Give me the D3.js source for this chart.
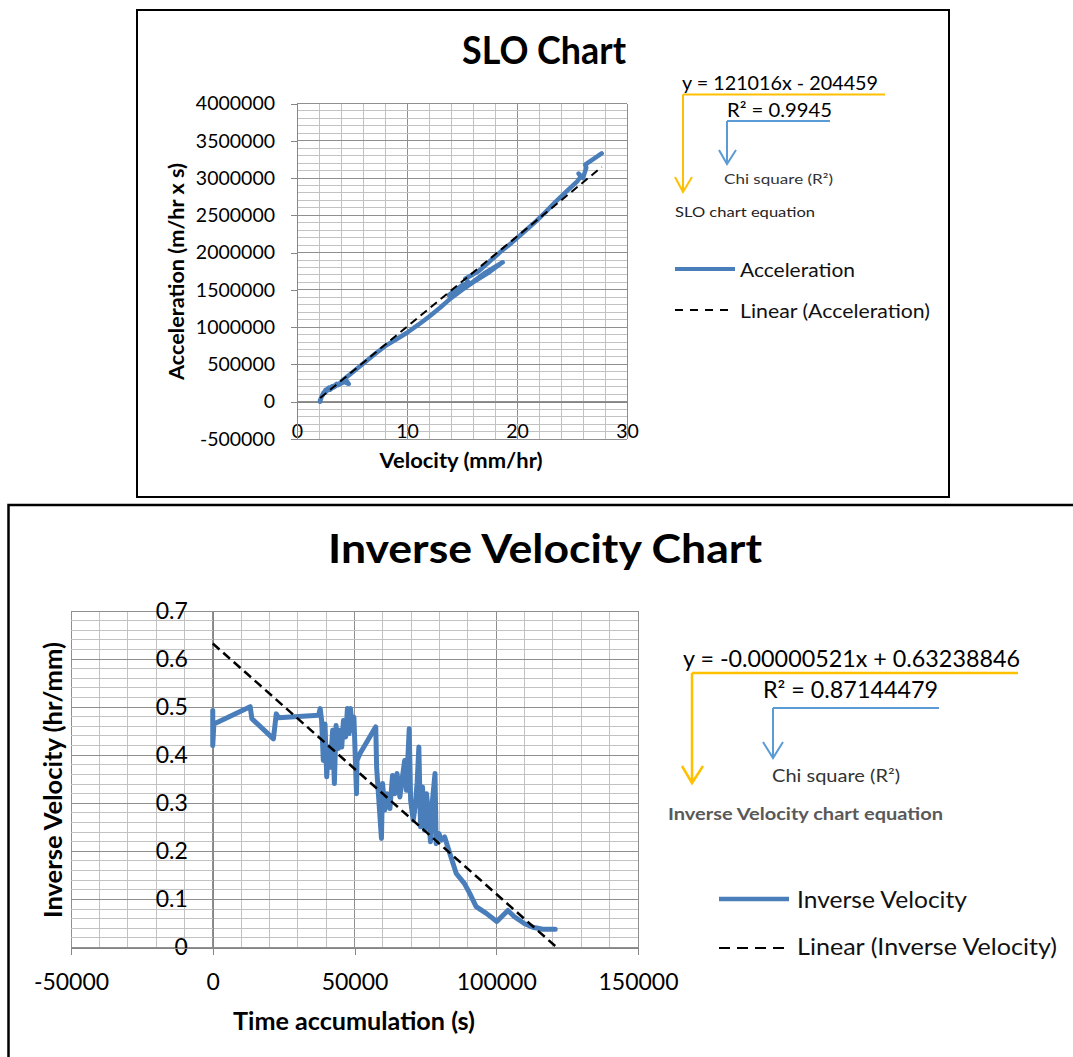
<!DOCTYPE html>
<html lang="en">
<head>
<meta charset="utf-8" />
<title>SLO Chart / Inverse Velocity Chart</title>
<script src="https://cdn.jsdelivr.net/npm/d3@7"></script>
<style>
  body { margin: 0; background: #fff; }
  svg { display: block; font-family: Lato, "Open Sans", sans-serif; }
</style>
</head>
<body>
<svg id="chart" width="1073" height="1057"></svg>
<script>
// ---- SLO chart data: velocity (mm/hr) vs acceleration (m/hr x s)
const sloVelocity = [2.1, 2.2, 2.1, 2.4, 2.3, 2.6, 2.4, 2.9, 2.6, 3.2, 3.0, 3.6, 3.3, 4.0, 3.7, 4.5, 4.7, 4.1,
  5.0, 6.0, 7.0, 8.0, 9.0, 10.0, 11.0, 12.0, 13.0, 14.0, 15.0, 16.0, 17.0, 18.7,
  17.5, 16.0, 14.5, 13.8, 15.0, 15.6, 15.3, 16.5, 17.5, 18.5, 19.5, 20.5, 21.5, 22.5,
  23.5, 24.5, 25.5, 25.8, 25.6, 26.0, 26.3, 26.2, 26.8, 27.7];
const sloAcceleration = [0, 50000, 20000, 120000, 80000, 160000, 110000, 190000, 130000, 210000,
  160000, 240000, 190000, 260000, 220000, 280000, 240000, 280000,
  390000, 510000, 630000, 745000, 835000, 925000, 1030000, 1140000, 1260000, 1390000,
  1500000, 1610000, 1720000, 1870000,
  1740000, 1600000, 1450000, 1430000, 1560000, 1600000, 1650000, 1750000, 1880000, 2010000,
  2130000, 2260000, 2390000, 2530000, 2680000, 2820000, 2960000, 3020000, 3060000, 3000000,
  3140000, 3180000, 3240000, 3330000];
const sloXTicks = [0, 10, 20, 30];
const sloYTicks = [-500000, 0, 500000, 1000000, 1500000, 2000000, 2500000, 3000000, 3500000, 4000000];
const sloSlope = 121016;
const sloIntercept = -204459;

// ---- Inverse velocity chart data: time accumulation (s) vs inverse velocity (hr/mm)
const ivTime = [0, 0, 400, 13200, 13800, 21400, 22400, 23200, 37300, 37900,
  38400, 39000, 39600, 40200, 40800, 41400, 42300, 42900, 43500, 44300, 44900, 45500,
  46100, 46900, 47500, 48100, 48600, 49200, 49800, 50700, 50900, 51900,
  57500, 57800, 59500, 59900, 60700, 61500, 62500, 63400, 64200, 65000, 66000, 66900,
  67700, 68300, 69300, 69800, 70700, 71400, 72100, 72700, 73300, 74000, 74700, 75400,
  76100, 76800, 77500, 78400, 78800, 79800, 80600, 81800, 83600, 85900, 88800, 90600,
  92900, 96500, 100200, 104100, 106400, 109900, 112900, 116400, 120800];
const ivInverse = [0.493, 0.420, 0.465, 0.501, 0.476, 0.434, 0.486, 0.478, 0.483, 0.497,
  0.472, 0.389, 0.465, 0.355, 0.417, 0.375, 0.452, 0.341, 0.462, 0.414, 0.452, 0.417,
  0.472, 0.438, 0.497, 0.445, 0.497, 0.452, 0.479, 0.320, 0.389, 0.403,
  0.459, 0.375, 0.227, 0.341, 0.286, 0.320, 0.289, 0.358, 0.320, 0.362, 0.313, 0.355,
  0.389, 0.327, 0.455, 0.306, 0.265, 0.293, 0.344, 0.417, 0.251, 0.334, 0.244, 0.320,
  0.279, 0.220, 0.306, 0.362, 0.216, 0.237, 0.223, 0.230, 0.196, 0.154, 0.133, 0.113,
  0.085, 0.071, 0.054, 0.077, 0.064, 0.050, 0.042, 0.038, 0.038];
const ivXTicks = [-50000, 0, 50000, 100000, 150000];
const ivYTicks = [0, 0.1, 0.2, 0.3, 0.4, 0.5, 0.6, 0.7];
const ivSlope = -0.00000521;
const ivIntercept = 0.63238846;

const blue = "#4a7ebb";
const gold = "#ffc000";
const noteBlue = "#5b9bd5";
const minorGrid = "#c2c2c2";
const majorGrid = "#8f8f8f";
const axisColor = "#868686";

const svg = d3.select("#chart");

// frames round each chart
svg.append("rect").attr("x", 137).attr("y", 10).attr("width", 812).attr("height", 487)
  .attr("fill", "none").attr("stroke", "#000").attr("stroke-width", 2);
svg.append("rect").attr("x", 8.5).attr("y", 505).attr("width", 1100).attr("height", 600)
  .attr("fill", "none").attr("stroke", "#000").attr("stroke-width", 2.5);

// draw minor + major gridlines for one plot
function drawGrid(g, x, y, xStep, xMajor, yStep, yMajor) {
  const [x0, x1] = x.domain();
  const [y0, y1] = y.domain();
  const xs = d3.range(x0, x1 + xStep / 2, xStep);
  const ys = d3.range(y0, y1 + yStep / 2, yStep);
  const isMajor = (v, m) => Math.abs(v / m - Math.round(v / m)) < 1e-6;
  g.selectAll(".vg").data(xs).enter().append("line")
    .attr("x1", d => x(d)).attr("x2", d => x(d))
    .attr("y1", y(y0)).attr("y2", y(y1))
    .attr("stroke", d => isMajor(d, xMajor) ? majorGrid : minorGrid)
    .attr("shape-rendering", "crispEdges");
  g.selectAll(".hg").data(ys).enter().append("line")
    .attr("y1", d => y(d)).attr("y2", d => y(d))
    .attr("x1", x(x0)).attr("x2", x(x1))
    .attr("stroke", d => isMajor(d, yMajor) ? majorGrid : minorGrid)
    .attr("shape-rendering", "crispEdges");
}

function styleAxis(g, size) {
  g.attr("font-family", null).attr("font-size", null);
  g.select(".domain").attr("stroke", axisColor).attr("shape-rendering", "crispEdges");
  g.selectAll(".tick line").attr("stroke", axisColor).attr("shape-rendering", "crispEdges");
  g.selectAll(".tick text").attr("fill", "#000").style("font-size", size + "px");
}

function addText(x, y, str, opts) {
  const t = svg.append("text").attr("x", x).attr("y", y).text(str)
    .style("font-size", opts.size + "px")
    .attr("fill", opts.fill || "#000")
    .attr("font-weight", opts.bold ? "bold" : "normal")
    .attr("text-anchor", opts.anchor || "start");
  if (opts.len) t.attr("textLength", opts.len).attr("lengthAdjust", "spacingAndGlyphs");
  if (opts.rotate) t.attr("transform", `rotate(-90,${x},${y})`);
  return t;
}

// =================== SLO chart ===================
const sloX = d3.scaleLinear().domain([0, 30]).range([297, 627]);
const sloY = d3.scaleLinear().domain([-500000, 4000000]).range([439, 103.5]);

const g1 = svg.append("g");
drawGrid(g1, sloX, sloY, 2, 10, 100000, 500000);

g1.append("g").attr("transform", `translate(0,${sloY(0)})`)
  .call(d3.axisBottom(sloX).tickValues(sloXTicks).tickSizeInner(5).tickSizeOuter(0).tickPadding(17))
  .call(g => styleAxis(g, 19.5));
g1.append("g").attr("transform", `translate(${sloX(0)},0)`)
  .call(d3.axisLeft(sloY).tickValues(sloYTicks).tickSize(6).tickSizeOuter(0).tickPadding(16)
    .tickFormat(d => String(d)))
  .call(g => styleAxis(g, 19.5));

const sloPoints = sloVelocity.map((v, i) => [v, sloAcceleration[i]]);
g1.append("path").datum(sloPoints)
  .attr("d", d3.line().x(d => sloX(d[0])).y(d => sloY(d[1])))
  .attr("fill", "none").attr("stroke", blue).attr("stroke-width", 4.5)
  .attr("stroke-linejoin", "round").attr("stroke-linecap", "round");

const sloExt = d3.extent(sloVelocity);
g1.append("path").datum(sloExt.map(v => [v, sloSlope * v + sloIntercept]))
  .attr("d", d3.line().x(d => sloX(d[0])).y(d => sloY(d[1])))
  .attr("fill", "none").attr("stroke", "#000").attr("stroke-width", 2)
  .attr("stroke-dasharray", "8,5");

addText(544, 64, "SLO Chart", { size: 38, bold: true, anchor: "middle", len: 164 });
addText(184, 271.5, "Acceleration (m/hr x s)", { size: 20, bold: true, anchor: "middle", len: 217, rotate: true });
addText(461, 468, "Velocity (mm/hr)", { size: 20, bold: true, anchor: "middle", len: 163 });

// equation notes
addText(682, 90, "y = 121016x - 204459", { size: 19, len: 196 });
svg.append("path").attr("d", "M683,94.5H885M683,94.5V192M675,177L683,192L692,177")
  .attr("fill", "none").attr("stroke", gold).attr("stroke-width", 2);
addText(727, 117, "R² = 0.9945", { size: 19, len: 105 });
svg.append("path").attr("d", "M727,121H830M727,121V164M719,150L727,164L736,150")
  .attr("fill", "none").attr("stroke", noteBlue).attr("stroke-width", 2);
addText(724, 184, "Chi square (R²)", { size: 14, fill: "#333", len: 109 });
addText(675, 217, "SLO chart equation", { size: 14, fill: "#222", len: 140 });

// legend
svg.append("line").attr("x1", 675).attr("x2", 735).attr("y1", 269).attr("y2", 269)
  .attr("stroke", blue).attr("stroke-width", 4);
addText(740, 276.5, "Acceleration", { size: 19.5, fill: "#111", len: 115 });
svg.append("line").attr("x1", 675).attr("x2", 733).attr("y1", 310).attr("y2", 310)
  .attr("stroke", "#000").attr("stroke-width", 2).attr("stroke-dasharray", "8,7");
addText(740, 317.5, "Linear (Acceleration)", { size: 19.5, fill: "#111", len: 190 });

// =================== Inverse velocity chart ===================
const ivX = d3.scaleLinear().domain([-50000, 150000]).range([71, 638]);
const ivY = d3.scaleLinear().domain([0, 0.7]).range([947.5, 611]);

const g2 = svg.append("g");
drawGrid(g2, ivX, ivY, 10000, 50000, 0.02, 0.1);

g2.append("g").attr("transform", `translate(${ivX(0)},0)`)
  .call(d3.axisLeft(ivY).tickValues(ivYTicks).tickSize(0).tickPadding(25)
    .tickFormat(d => d === 0 ? "0" : d.toFixed(1)))
  .call(g => styleAxis(g, 23));
g2.append("g").attr("transform", `translate(0,${ivY(0)})`)
  .call(d3.axisBottom(ivX).tickValues(ivXTicks).tickSizeInner(7).tickSizeOuter(0).tickPadding(19)
    .tickFormat(d => String(d)))
  .call(g => styleAxis(g, 23));

const ivPoints = ivTime.map((t, i) => [t, ivInverse[i]]);
g2.append("path").datum(ivPoints)
  .attr("d", d3.line().x(d => ivX(d[0])).y(d => ivY(d[1])))
  .attr("fill", "none").attr("stroke", blue).attr("stroke-width", 5)
  .attr("stroke-linejoin", "round").attr("stroke-linecap", "round");

const ivExt = d3.extent(ivTime);
g2.append("path").datum(ivExt.map(t => [t, ivSlope * t + ivIntercept]))
  .attr("d", d3.line().x(d => ivX(d[0])).y(d => ivY(d[1])))
  .attr("fill", "none").attr("stroke", "#000").attr("stroke-width", 2.5)
  .attr("stroke-dasharray", "9,5");

addText(545, 563, "Inverse Velocity Chart", { size: 41, bold: true, anchor: "middle", len: 434 });
addText(62, 780, "Inverse Velocity (hr/mm)", { size: 24, bold: true, anchor: "middle", len: 276, rotate: true });
addText(354, 1030, "Time accumulation (s)", { size: 24, bold: true, anchor: "middle", len: 242 });

// equation notes
addText(683, 667, "y = -0.00000521x + 0.63238846", { size: 22.5, len: 337 });
svg.append("path").attr("d", "M692,673H1018M692,673V783M682,766L692,783L703,766")
  .attr("fill", "none").attr("stroke", gold).attr("stroke-width", 2.5);
addText(763, 698, "R² = 0.87144479", { size: 22.5, len: 175 });
svg.append("path").attr("d", "M773,708H939M773,708V758M763,742L773,758L783,742")
  .attr("fill", "none").attr("stroke", noteBlue).attr("stroke-width", 2);
addText(772, 782, "Chi square (R²)", { size: 17, fill: "#333", len: 128 });
addText(668, 820, "Inverse Velocity chart equation", { size: 17.5, bold: true, fill: "#595959", len: 275 });

// legend
svg.append("line").attr("x1", 719).attr("x2", 789).attr("y1", 899).attr("y2", 899)
  .attr("stroke", blue).attr("stroke-width", 4.5);
addText(797, 908, "Inverse Velocity", { size: 23, fill: "#111", len: 170 });
svg.append("line").attr("x1", 719).attr("x2", 787).attr("y1", 948).attr("y2", 948)
  .attr("stroke", "#000").attr("stroke-width", 2.2).attr("stroke-dasharray", "11,7");
addText(797, 955, "Linear (Inverse Velocity)", { size: 23, fill: "#111", len: 260 });
</script>
</body>
</html>
